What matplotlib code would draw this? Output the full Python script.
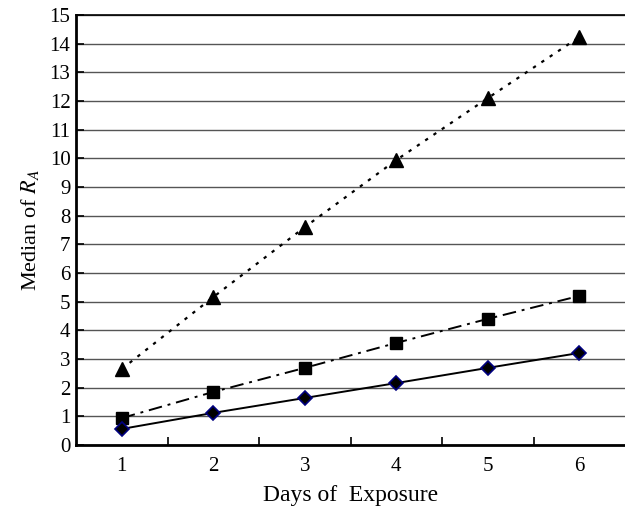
import numpy as np
import matplotlib
matplotlib.use("Agg")
import matplotlib.pyplot as plt

# data
days = [1, 2, 3, 4, 5, 6]
tri = [2.65, 5.16, 7.6, 9.94, 12.1, 14.23]
sq = [0.94, 1.85, 2.69, 3.56, 4.4, 5.2]
dia = [0.56, 1.12, 1.64, 2.16, 2.69, 3.21]

plt.rcParams['font.family'] = ['Liberation Serif', 'DejaVu Serif']
plt.rcParams['mathtext.fontset'] = 'stix'

fig = plt.figure(figsize=(6.25, 5.07), dpi=100)
ax = fig.add_axes([0.1216, 0.1223, 0.8784, 0.8481])

ax.plot(days, tri, linestyle=(0, (1.5, 3)), color='black', lw=1.6,
        marker='^', ms=10, mfc='black', mec='black', zorder=3)
ax.plot(days, sq, linestyle=(0, (7, 3, 1.5, 3)), color='black', lw=1.4,
        marker='s', ms=8, mfc='black', mec='black', zorder=3)
ax.plot(days, dia, linestyle='-', color='black', lw=1.4,
        marker='D', ms=7, mfc='black', mec='#000080', mew=1.2, zorder=3)

ax.set_xlim(0.5, 6.5)
ax.set_ylim(0, 15)
ax.set_yticks(np.arange(0, 16, 1))
ax.set_xticks(days)
ax.set_xticks([1.5, 2.5, 3.5, 4.5, 5.5], minor=True)
ax.tick_params(axis='x', which='major', length=0, labelsize=15, pad=9)
ax.tick_params(axis='x', which='minor', direction='in', length=6, width=1.2)
ax.tick_params(axis='y', direction='in', length=6, width=1.2, labelsize=15, pad=4)

ax.grid(axis='y', color='#555555', lw=1.0)
ax.set_axisbelow(True)
ax.spines['right'].set_visible(False)
ax.spines['top'].set_linewidth(1.2)
ax.spines['left'].set_linewidth(2)
ax.spines['bottom'].set_linewidth(2)

ax.set_xlabel('Days of  Exposure', fontsize=17, labelpad=6)
ax.set_ylabel('Median of $R_A$', fontsize=16, labelpad=6)

fig.savefig('out.png', dpi=100)
